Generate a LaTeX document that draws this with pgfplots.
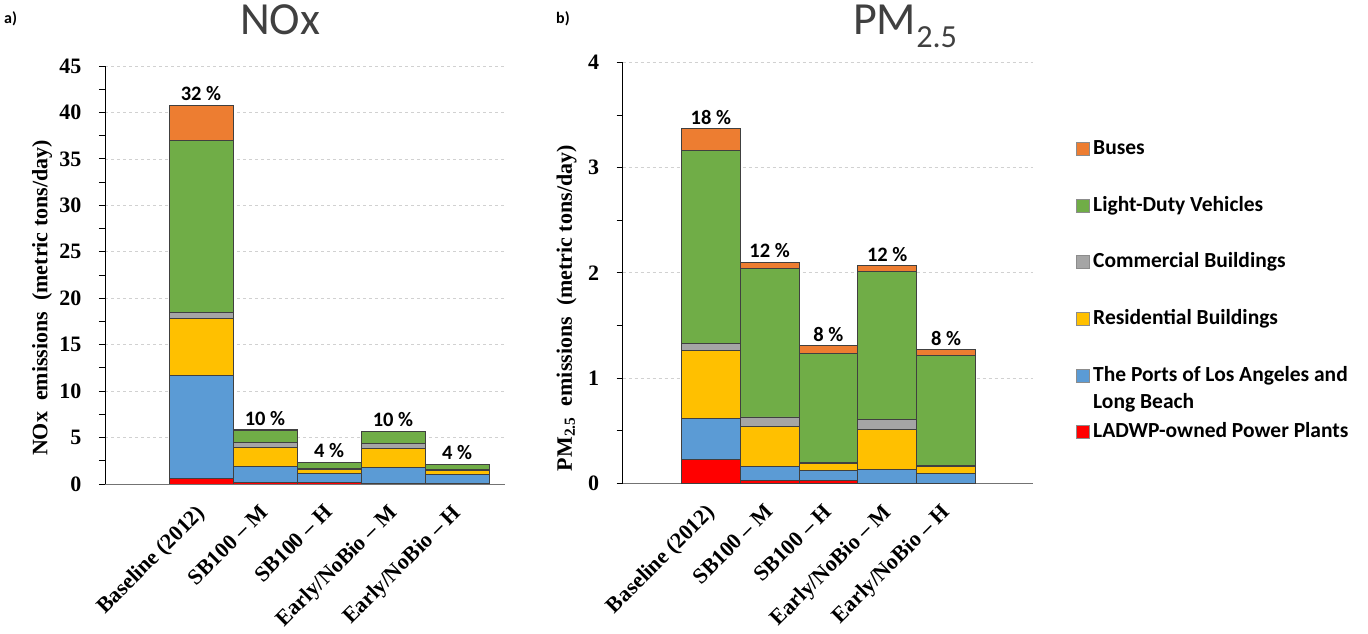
\documentclass[border=0pt]{standalone}
\usepackage{fontspec}
\setmainfont{Liberation Serif}
\newfontfamily\calibri{Carlito}
\usepackage{pgfplots}
\pgfplotsset{compat=1.18}
\definecolor{cRed}{HTML}{FF0000}
\definecolor{cBlue}{HTML}{5B9BD5}
\definecolor{cYel}{HTML}{FFC000}
\definecolor{cGray}{HTML}{A5A5A5}
\definecolor{cGreen}{HTML}{70AD47}
\definecolor{cOrange}{HTML}{ED7D31}
\definecolor{titlegray}{HTML}{404040}
\pgfplotsset{
  emis/.style={
    scale only axis,
    ybar stacked,
    anchor=south west,
    axis x line*=bottom, axis y line*=left,
    x axis line style={black!55, line width=0.9pt},
    y axis line style={black, line width=0.9pt},
    xtick={0,1,2,3,4},
    xticklabels={Baseline (2012), SB100 -- M, SB100 -- H, Early/NoBio -- M, Early/NoBio -- H},
    x tick style={draw=none},
    ytick pos=left,
    tick align=outside,
    major tick length=6pt, minor tick length=6pt,
    minor y tick num=1,
    y tick style={black, line width=0.8pt},
    ymajorgrids, grid style={dashed, black!18, line width=0.6pt},
    y tick label style={font=\fontsize{22}{25}\selectfont\bfseries, xshift=-14pt},
    /pgf/number format/assume math mode=true,
    x tick label style={font=\fontsize{22}{25}\selectfont\bfseries, xshift=-6pt, yshift=-13pt, rotate=45, anchor=north east, inner sep=0pt},
    label style={font=\fontsize{22}{25}\selectfont\bfseries},
    every axis plot/.append style={draw=black!75, line width=0.9pt},
  },
}
\tikzset{pct/.style={font=\calibri\bfseries\fontsize{20.5}{23}\selectfont, anchor=south, yshift=4pt, inner sep=0pt}}
\begin{document}
\begin{tikzpicture}
\path[use as bounding box] (0pt,0pt) rectangle (1368pt,634pt);

% ---------- a) NOx ----------
\begin{axis}[emis, at={(105pt,150pt)}, width=400pt, height=418pt,
  xmin=-1.5, xmax=4.75, ymin=0, ymax=45, ytick={0,5,...,45},
  bar width=64pt,
  ylabel={NOx\ \ emissions\ \ (metric tons/day)},
  ylabel style={at={(axis description cs:-0.157,0.445)}, anchor=center}]
\addplot[fill=cRed]    coordinates {(0,0.57) (1,0.15) (2,0.15) (3,0.02) (4,0.02)};
\addplot[fill=cBlue]   coordinates {(0,11.08) (1,1.75) (2,1.03) (3,1.74) (4,1.02)};
\addplot[fill=cYel]    coordinates {(0,6.20) (1,2.08) (2,0.43) (3,2.07) (4,0.46)};
\addplot[fill=cGray]   coordinates {(0,0.61) (1,0.54) (2,0.07) (3,0.58) (4,0.08)};
\addplot[fill=cGreen]  coordinates {(0,18.57) (1,1.28) (2,0.65) (3,1.25) (4,0.53)};
\addplot[fill=cOrange] coordinates {(0,3.77) (1,0.03) (2,0.02) (3,0.03) (4,0.02)};
\node[pct] at (axis cs:0,40.8) {32 \%};
\node[pct] at (axis cs:1,5.83) {10 \%};
\node[pct] at (axis cs:2,2.35) {4 \%};
\node[pct] at (axis cs:3,5.69) {10 \%};
\node[pct] at (axis cs:4,2.13) {4 \%};
\end{axis}

% ---------- b) PM2.5 ----------
\begin{axis}[emis, at={(622.7pt,150.7pt)}, width=410.3pt, height=421pt,
  xmin=-1.5, xmax=5.48, ymin=0, ymax=4, ytick={0,1,2,3,4},
  bar width=58.8pt,
  ylabel={PM\textsubscript{2.5}\ \ emissions\ \ (metric tons/day)},
  ylabel style={at={(axis description cs:-0.137,0.416)}, anchor=center}]
\addplot[fill=cRed]    coordinates {(0,0.23) (1,0.03) (2,0.025) (3,0.0) (4,0.0)};
\addplot[fill=cBlue]   coordinates {(0,0.39) (1,0.13) (2,0.095) (3,0.13) (4,0.09)};
\addplot[fill=cYel]    coordinates {(0,0.64) (1,0.38) (2,0.07) (3,0.38) (4,0.07)};
\addplot[fill=cGray]   coordinates {(0,0.07) (1,0.09) (2,0.01) (3,0.10) (4,0.01)};
\addplot[fill=cGreen]  coordinates {(0,1.83) (1,1.41) (2,1.035) (3,1.40) (4,1.04)};
\addplot[fill=cOrange] coordinates {(0,0.21) (1,0.06) (2,0.07) (3,0.06) (4,0.06)};
\node[pct] at (axis cs:0,3.37) {18 \%};
\node[pct] at (axis cs:1,2.10) {12 \%};
\node[pct] at (axis cs:2,1.305) {8 \%};
\node[pct] at (axis cs:3,2.07) {12 \%};
\node[pct] at (axis cs:4,1.27) {8 \%};
\end{axis}

% ---------- titles and panel letters ----------
\node[anchor=base, inner sep=0pt, text=titlegray, font=\calibri\fontsize{46}{50}\selectfont] at (280pt,599pt) {NOx};
\node[anchor=base west, inner sep=0pt, text=titlegray, font=\calibri\fontsize{46}{50}\selectfont] at (853pt,599pt) {PM\textsubscript{2.5}};
\node[anchor=base west, inner sep=0pt, font=\calibri\bfseries\fontsize{16}{19}\selectfont] at (4pt,610pt) {a)};
\node[anchor=base west, inner sep=0pt, font=\calibri\bfseries\fontsize{16}{19}\selectfont] at (556pt,610pt) {b)};

% ---------- legend ----------
\begin{scope}[every node/.style={anchor=base west, inner sep=0pt, font=\calibri\bfseries\fontsize{21.5}{24}\selectfont}]
\filldraw[fill=cOrange, draw=black!45, line width=0.8pt] (1076pt,479pt) rectangle ++(13pt,13pt);
\node at (1093pt,479pt) {Buses};
\filldraw[fill=cGreen, draw=black!45, line width=0.8pt] (1076pt,422pt) rectangle ++(13pt,13pt);
\node at (1093pt,422pt) {Light-Duty Vehicles};
\filldraw[fill=cGray, draw=black!45, line width=0.8pt] (1076pt,366pt) rectangle ++(13pt,13pt);
\node at (1093pt,366pt) {Commercial Buildings};
\filldraw[fill=cYel, draw=black!45, line width=0.8pt] (1076pt,309pt) rectangle ++(13pt,13pt);
\node at (1093pt,309pt) {Residential Buildings};
\filldraw[fill=cBlue, draw=black!45, line width=0.8pt] (1076pt,252pt) rectangle ++(13pt,13pt);
\node at (1093pt,252pt) {The Ports of Los Angeles and};
\node at (1093pt,225pt) {Long Beach};
\filldraw[fill=cRed, draw=black!45, line width=0.8pt] (1076pt,196pt) rectangle ++(13pt,13pt);
\node at (1093pt,196pt) {LADWP-owned Power Plants};
\end{scope}
\end{tikzpicture}
\end{document}
